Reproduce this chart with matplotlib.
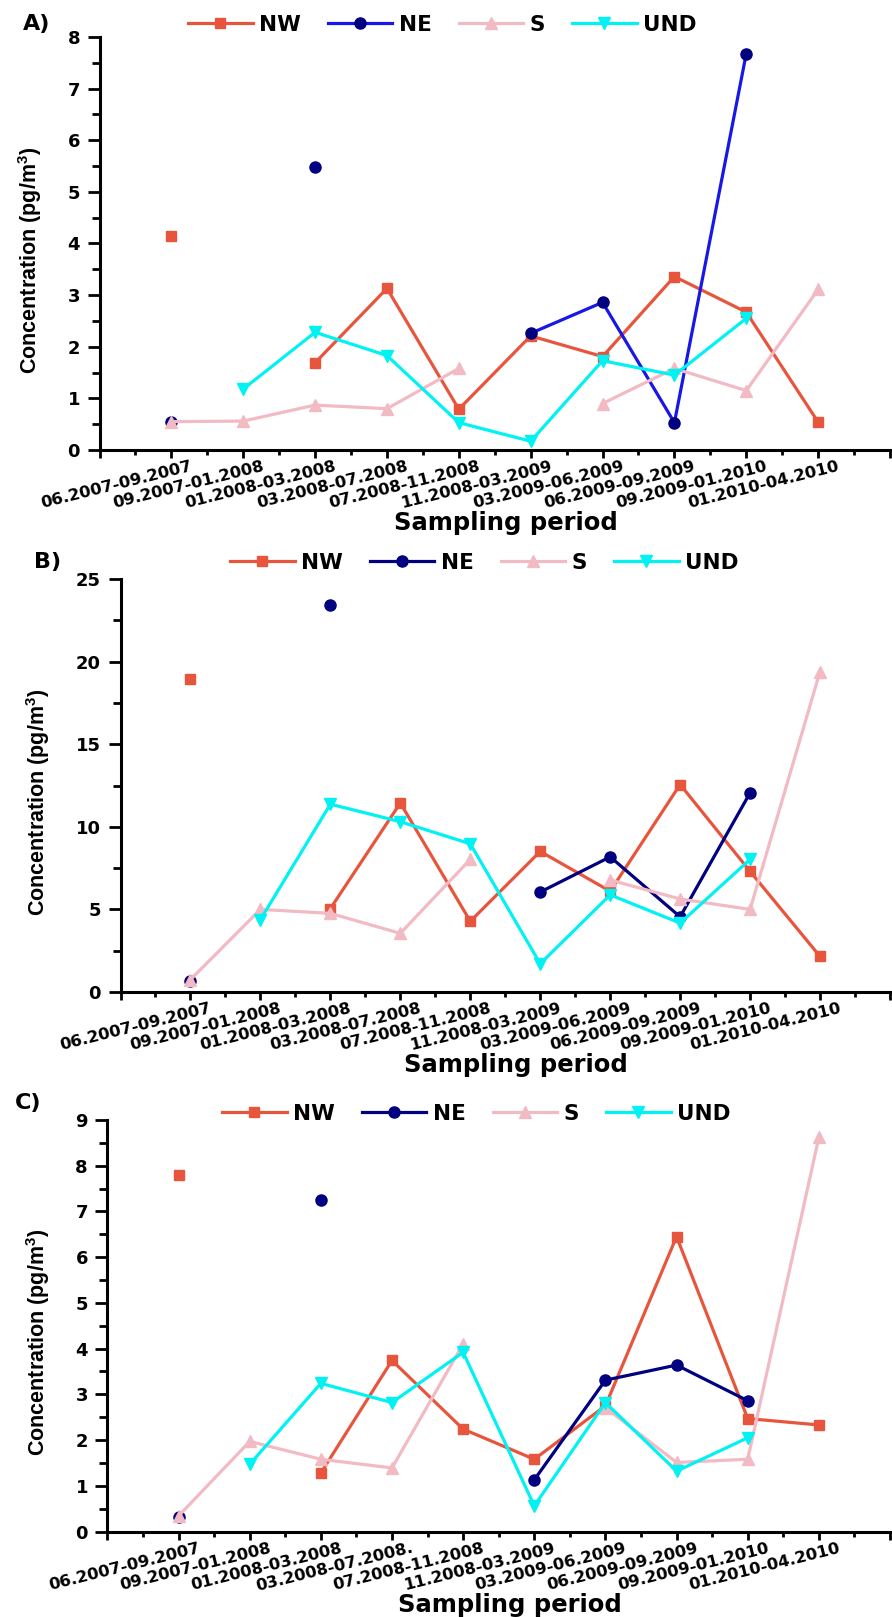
import numpy as np
import matplotlib
matplotlib.use('Agg')
import matplotlib.pyplot as plt
from matplotlib.ticker import MultipleLocator
from matplotlib.transforms import ScaledTranslation

nan = np.nan

########## Data ##########
periods = ['06.2007-09.2007' , '09.2007-01.2008' , '01.2008-03.2008' , '03.2008-07.2008' , '07.2008-11.2008' ,
           '11.2008-03.2009' , '03.2009-06.2009' , '06.2009-09.2009' , '09.2009-01.2010' , '01.2010-04.2010']
periodsC = ['06.2007-09.2007' , '09.2007-01.2008' , '01.2008-03.2008' , '03.2008-07.2008.' , '07.2008-11.2008' ,
            '11.2008-03.2009' , '03.2009-06.2009' , '06.2009-09.2009' , '09.2009-01.2010' , '01.2010-04.2010']

# panel A
nwA  = [4.14 , nan , 1.69 , 3.13 , 0.79 , 2.21 , 1.81 , 3.36 , 2.67 , 0.54]
neA  = [0.55 , nan , 5.48 , nan , nan , 2.26 , 2.86 , 0.53 , 7.68 , nan]
sA   = [0.55 , 0.56 , 0.87 , 0.80 , 1.58 , nan , 0.90 , 1.58 , 1.15 , 3.11]
undA = [nan , 1.18 , 2.28 , 1.83 , 0.53 , 0.17 , 1.73 , 1.45 , 2.55 , nan]

# panel B
nwB  = [18.97 , nan , 5.05 , 11.44 , 4.28 , 8.51 , 6.10 , 12.56 , 7.30 , 2.15]
neB  = [0.69 , nan , 23.43 , nan , nan , 6.05 , 8.18 , 4.55 , 12.06 , nan]
sB   = [0.75 , 5.00 , 4.76 , 3.55 , 8.03 , nan , 6.78 , 5.63 , 5.00 , 19.40]
undB = [nan , 4.38 , 11.37 , 10.31 , 8.97 , 1.71 , 5.88 , 4.17 , 8.03 , nan]

# panel C
nwC  = [7.79 , nan , 1.28 , 3.74 , 2.24 , 1.58 , 2.75 , 6.45 , 2.47 , 2.33]
neC  = [0.32 , nan , 7.24 , nan , nan , 1.13 , 3.31 , 3.64 , 2.86 , nan]
sC   = [0.34 , 1.97 , 1.58 , 1.39 , 4.10 , nan , 2.71 , 1.51 , 1.58 , 8.62]
undC = [nan , 1.47 , 3.24 , 2.82 , 3.92 , 0.56 , 2.82 , 1.32 , 2.05 , nan]

W , H = 892 , 1617

def drawPanel(fig , box , nw , ne , s , und , labels , ymax , ystep , tag , tagXY , legXY , ylabRight , neLine):
    left , top , right , bottom = box
    ax = fig.add_axes([left / W , 1 - bottom / H , (right - left) / W , (bottom - top) / H])
    x = np.arange(1 , 11)
    ax.plot(x , nw , color = '#E8553D' , lw = 2.3 , marker = 's' , ms = 7.5 , mec = '#E8553D' , label = 'NW')
    ax.plot(x , ne , color = neLine , lw = 2.3 , marker = 'o' , ms = 8 , mfc = '#000080' , mec = '#000080' , label = 'NE')
    ax.plot(x , s , color = '#F2BAC3' , lw = 2.3 , marker = '^' , ms = 9 , mec = '#F2BAC3' , label = 'S')
    ax.plot(x , und , color = '#00F2F2' , lw = 2.3 , marker = 'v' , ms = 9 , mec = '#00F2F2' , label = 'UND')

    ax.set_xlim(0 , 11)
    ax.set_ylim(0 , ymax)
    ax.spines['top'].set_visible(False)
    ax.spines['right'].set_visible(False)
    ax.spines['left'].set_linewidth(2.2)
    ax.spines['bottom'].set_linewidth(2.2)

    ax.set_xticks(np.arange(0 , 12))
    ax.set_xticklabels([''] + labels + [''])
    ax.xaxis.set_minor_locator(MultipleLocator(0.5))
    ax.yaxis.set_major_locator(MultipleLocator(ystep))
    ax.yaxis.set_minor_locator(MultipleLocator(ystep / 2))
    ax.tick_params(axis = 'x' , which = 'major' , length = 6 , width = 2 , labelsize = 11.8 , pad = 0.5)
    ax.tick_params(axis = 'x' , which = 'minor' , length = 3.5 , width = 2)
    ax.tick_params(axis = 'y' , which = 'major' , length = 9 , width = 2 , labelsize = 13 , pad = 5)
    ax.tick_params(axis = 'y' , which = 'minor' , length = 5.5 , width = 2)
    shift = ScaledTranslation(0.19 , 0.0 , fig.dpi_scale_trans)
    for lab in ax.get_xticklabels():
        lab.set_rotation(14)
        lab.set_ha('right')
        lab.set_va('top')
        lab.set_rotation_mode('anchor')
        lab.set_transform(lab.get_transform() + shift)

    ax.set_ylabel('Concentration (pg/m$^3$)' , fontsize = 15.5 , family = 'Liberation Sans' , fontweight = 'bold')
    ax.yaxis.set_label_coords((ylabRight - left) / (right - left) , 0.46)
    ax.set_xlabel('Sampling period' , fontsize = 17.5 , fontweight = 'bold' , va = 'center')
    ax.xaxis.set_label_coords(0.514 , -73 / (bottom - top))

    fig.text(tagXY[0] / W , 1 - tagXY[1] / H , tag , fontsize = 16 , fontweight = 'bold' , ha = 'left' , va = 'center')
    ax.legend(loc = 'center left' , bbox_to_anchor = (legXY[0] / W , 1 - legXY[1] / H) , bbox_transform = fig.transFigure ,
              ncol = 4 , frameon = False , prop = {'weight' : 'bold' , 'size' : 15.5} , handlelength = 3.0 ,
              handletextpad = 0.3 , columnspacing = 1.25 , borderpad = 0 , borderaxespad = 0 , numpoints = 1)
    return ax

def main():
    plt.rcParams['font.family'] = 'DejaVu Sans'
    plt.rcParams['font.weight'] = 'bold'
    plt.rcParams['mathtext.fontset'] = 'custom'
    plt.rcParams['mathtext.rm'] = 'Liberation Sans:bold'
    plt.rcParams['mathtext.default'] = 'rm'

    fig = plt.figure(figsize = [W / 100 , H / 100] , dpi = 100)
    drawPanel(fig , (99.5 , 37 , 890 , 450) , nwA , neA , sA , undA , periods , 8 , 1 ,
              'A)' , (23 , 24) , (188 , 25) , 44 , '#1818E6')
    drawPanel(fig , (120.5 , 579 , 890 , 992) , nwB , neB , sB , undB , periods , 25 , 5 ,
              'B)' , (34 , 562) , (230 , 563) , 52 , '#000080')
    drawPanel(fig , (107.4 , 1120 , 890 , 1531.5) , nwC , neC , sC , undC , periodsC , 9 , 1 ,
              'C)' , (15 , 1103) , (222 , 1114) , 52 , '#000080')
    fig.savefig('out.png' , dpi = 100)

if __name__ == '__main__':
    main()
